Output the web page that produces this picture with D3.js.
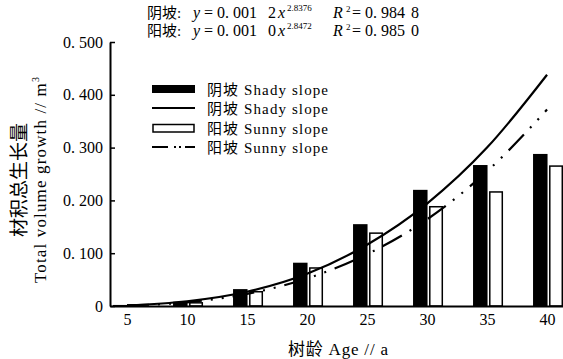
<!DOCTYPE html>
<html><head><meta charset="utf-8">
<script src="https://cdn.jsdelivr.net/npm/d3@7"></script>
<style>
body{margin:0;background:#fff;}
svg{display:block;}
svg text{font-family:"Liberation Serif","Noto Sans CJK SC",serif !important;white-space:pre;fill:#000;}
</style></head>
<body>
<svg id="c" width="563" height="359"></svg>
<script>
// ---- data ----
const ages = [5, 10, 15, 20, 25, 30, 35, 40];
const shadyBars = [0.002, 0.008, 0.032, 0.082, 0.155, 0.220, 0.267, 0.288];
const sunnyBars = [0.001, 0.006, 0.027, 0.072, 0.138, 0.188, 0.216, 0.265];
const shadyFit = [0.001, 0.009, 0.027, 0.061, 0.116, 0.194, 0.300, 0.438];
const sunnyFit = [0.001, 0.007, 0.023, 0.052, 0.098, 0.164, 0.255, 0.372];
const yTicks = [0, 0.1, 0.2, 0.3, 0.4, 0.5];
const yTickLabels = ["0", "0. 100", "0. 200", "0. 300", "0. 400", "0. 500"];
const legendLabels = ["阴坡 Shady slope", "阴坡 Shady slope", "阳坡 Sunny slope", "阳坡 Sunny slope"];

const svg = d3.select("#c");
const x = d3.scaleLinear().domain([3.58, 41.33]).range([110, 563]);
const y = d3.scaleLinear().domain([0, 0.5]).range([306, 42]);
const barW = 14;

// bars
const g = svg.append("g");
g.selectAll("rect.shady").data(ages).join("rect")
  .attr("x", (d) => x(d) - barW).attr("width", barW + 0.5)
  .attr("y", (d, i) => y(shadyBars[i])).attr("height", (d, i) => y(0) - y(shadyBars[i]))
  .attr("fill", "#000");
g.selectAll("rect.sunny").data(ages).join("rect")
  .attr("x", (d) => x(d) + 2.75).attr("width", barW - 1.5)
  .attr("y", (d, i) => y(sunnyBars[i])).attr("height", (d, i) => y(0) - y(sunnyBars[i]))
  .attr("fill", "#fff").attr("stroke", "#000").attr("stroke-width", 1.5);

// curves
const line = d3.line().x((d) => x(d[0])).y((d) => y(d[1])).curve(d3.curveMonotoneX);
svg.append("path").attr("d", line(ages.map((a, i) => [a, shadyFit[i]])))
  .attr("fill", "none").attr("stroke", "#000").attr("stroke-width", 2.2);
svg.append("path").attr("d", line(ages.map((a, i) => [a, sunnyFit[i]])))
  .attr("fill", "none").attr("stroke", "#000").attr("stroke-width", 2.2)
  .attr("stroke-dasharray", "22,9,2,9,2,9");

// axes
const ax = svg.append("g").attr("transform", "translate(0,306)")
  .call(d3.axisBottom(x).tickValues(ages).tickSize(0).tickPadding(8).tickFormat(d3.format("d")));
ax.select(".domain").attr("stroke-width", 2);
ax.selectAll("text").attr("font-size", 16);

const ay = svg.append("g").attr("transform", "translate(110,0)")
  .call(d3.axisLeft(y).tickValues(yTicks).tickSizeInner(-5).tickSizeOuter(0).tickPadding(7)
    .tickFormat((d, i) => yTickLabels[i]));
ay.select(".domain").attr("stroke-width", 2);
ay.selectAll(".tick line").attr("stroke-width", 1.5);
ay.selectAll("text").attr("font-size", 16);

// axis titles
svg.append("text").attr("x", 338).attr("y", 355).attr("text-anchor", "middle")
  .attr("font-size", 17).attr("textLength", 100).attr("lengthAdjust", "spacing")
  .text("树龄 Age // a");

svg.append("text").attr("transform", "translate(19,180) rotate(-90)")
  .attr("text-anchor", "middle").attr("dominant-baseline", "central")
  .attr("font-size", 19).text("材积总生长量");
const yt = svg.append("text").attr("transform", "translate(46,180) rotate(-90)")
  .attr("text-anchor", "middle").attr("font-size", 17)
  .attr("textLength", 206).attr("lengthAdjust", "spacing");
yt.append("tspan").text("Total volume growth // m");
yt.append("tspan").attr("font-size", 10).attr("dy", -7).text("3");

// legend
const lg = svg.append("g");
const rows = [89, 108, 128, 147];
lg.append("rect").attr("x", 152).attr("y", rows[0] - 4).attr("width", 43).attr("height", 8).attr("fill", "#000");
lg.append("line").attr("x1", 152).attr("x2", 195).attr("y1", rows[1]).attr("y2", rows[1])
  .attr("stroke", "#000").attr("stroke-width", 2);
lg.append("rect").attr("x", 153).attr("y", rows[2] - 3.5).attr("width", 41).attr("height", 7.5)
  .attr("fill", "#fff").attr("stroke", "#000").attr("stroke-width", 1.5);
lg.append("line").attr("x1", 152).attr("x2", 195).attr("y1", rows[3]).attr("y2", rows[3])
  .attr("stroke", "#000").attr("stroke-width", 2).attr("stroke-dasharray", "16,6,2,3,2,4,11");
lg.selectAll("text.l").data(legendLabels).join("text")
  .attr("x", 207).attr("y", (d, i) => rows[i] + 5.5)
  .attr("font-size", 15).attr("textLength", 121).attr("lengthAdjust", "spacing")
  .text((d) => d);

// equations
const eqs = [
  { base: 18, lab: "阴坡:", a: "= 0. 001", b: "2", p: "2.8376", r: "= 0. 984", r2: "8" },
  { base: 36, lab: "阳坡:", a: "= 0. 001", b: "0", p: "2.8472", r: "= 0. 985", r2: "0" }
];
eqs.forEach((e) => {
  const t = svg.append("g").attr("font-size", 16);
  t.append("text").attr("x", 147).attr("y", e.base).attr("font-size", 15).text(e.lab);
  t.append("text").attr("x", 193).attr("y", e.base).attr("font-style", "italic").text("y");
  t.append("text").attr("x", 204).attr("y", e.base).text(e.a);
  t.append("text").attr("x", 268).attr("y", e.base).text(e.b);
  t.append("text").attr("x", 278).attr("y", e.base).attr("font-style", "italic").text("x");
  t.append("text").attr("x", 287).attr("y", e.base - 7).attr("font-size", 9).text(e.p);
  t.append("text").attr("x", 333).attr("y", e.base).attr("font-style", "italic").text("R");
  t.append("text").attr("x", 346).attr("y", e.base - 6).attr("font-size", 9).text("2");
  t.append("text").attr("x", 352).attr("y", e.base).text(e.r);
  t.append("text").attr("x", 411).attr("y", e.base).text(e.r2);
});
</script>
</body></html>
